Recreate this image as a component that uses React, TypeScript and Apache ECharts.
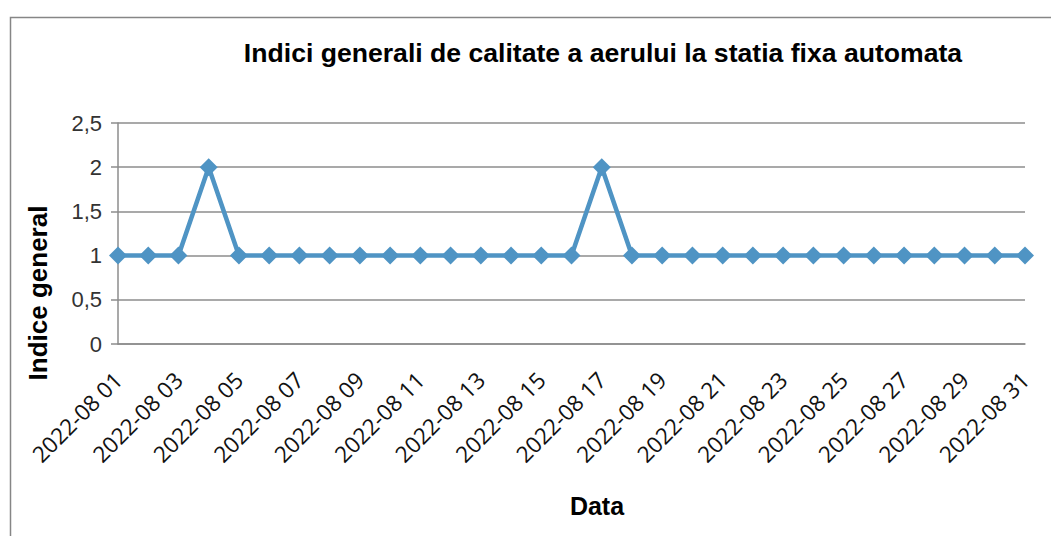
import React, { useEffect, useRef } from "react";
import * as echarts from "echarts";

const titleText = "Indici generali de calitate a aerului la statia fixa automata";
const xAxisTitle = "Data";
const yAxisTitle = "Indice general";
const dates = [
  "2022-08 01", "2022-08 02", "2022-08 03", "2022-08 04", "2022-08 05", "2022-08 06",
  "2022-08 07", "2022-08 08", "2022-08 09", "2022-08 10", "2022-08 11", "2022-08 12",
  "2022-08 13", "2022-08 14", "2022-08 15", "2022-08 16", "2022-08 17", "2022-08 18",
  "2022-08 19", "2022-08 20", "2022-08 21", "2022-08 22", "2022-08 23", "2022-08 24",
  "2022-08 25", "2022-08 26", "2022-08 27", "2022-08 28", "2022-08 29", "2022-08 30",
  "2022-08 31",
];
const indexValues = [
  1, 1, 1, 2, 1, 1, 1, 1, 1, 1, 1, 1, 1, 1, 1, 1, 2, 1, 1, 1, 1, 1, 1, 1, 1, 1, 1, 1, 1, 1, 1,
];
const yMin = 0;
const yMax = 2.5;
const yInterval = 0.5;

export default function App() {
  const ref = useRef<HTMLDivElement>(null);
  useEffect(() => {
    if (!ref.current) return;
    const chart = echarts.init(ref.current, null, { renderer: "svg" });
    chart.setOption({
      animation: false,
      backgroundColor: "#ffffff",
      title: {
        text: titleText,
        left: 598,
        top: 34,
        textAlign: "center",
        textStyle: {
          fontFamily: "Liberation Sans",
          fontWeight: "bold",
          fontSize: 26.6,
          color: "#000",
        },
      },
      graphic: [
        {
          type: "rect",
          left: 8,
          top: 15,
          shape: { width: 1200, height: 700 },
          style: { fill: "none", stroke: "#868686", lineWidth: 1.5 },
          silent: true,
        },
        {
          type: "text",
          x: 38,
          y: 293,
          rotation: Math.PI / 2,
          style: {
            text: yAxisTitle,
            fontFamily: "Liberation Sans",
            fontWeight: "bold",
            fontSize: 26,
            fill: "#000",
            align: "center",
            verticalAlign: "middle",
          },
        },
        {
          type: "text",
          x: 597,
          y: 506,
          style: {
            text: xAxisTitle,
            fontFamily: "Liberation Sans",
            fontWeight: "bold",
            fontSize: 25,
            fill: "#000",
            align: "center",
            verticalAlign: "middle",
          },
        },
      ],
      grid: { left: 118, right: 26, top: 123, bottom: 192 },
      xAxis: {
        type: "category",
        data: dates,
        boundaryGap: false,
        axisLine: { lineStyle: { color: "#8c8c8c", width: 1.5 } },
        axisTick: { show: false },
        axisLabel: {
          interval: 1,
          rotate: 45,
          margin: 32,
          fontFamily: "Open Sans",
          fontSize: 22.5,
          color: "#111",
        },
        splitLine: { show: false },
      },
      yAxis: {
        type: "value",
        min: yMin,
        max: yMax,
        interval: yInterval,
        axisLine: { show: true, lineStyle: { color: "#8c8c8c", width: 1.5 } },
        axisTick: { show: true, length: 7, lineStyle: { color: "#8c8c8c", width: 1.5 } },
        axisLabel: {
          margin: 16,
          fontFamily: "Liberation Sans",
          fontSize: 22,
          color: "#333",
          formatter: (v: number) => String(v).replace(".", ","),
        },
        splitLine: { lineStyle: { color: "#8c8c8c", width: 1.5 } },
      },
      series: [
        {
          type: "line",
          data: indexValues,
          symbol: "diamond",
          symbolSize: 18,
          lineStyle: { color: "#4f94c4", width: 4.5 },
          itemStyle: { color: "#4f94c4" },
        },
      ],
    });
    return () => chart.dispose();
  }, []);
  return (
    <div
      ref={ref}
      style={{ position: "fixed", left: 0, top: 0, width: 1051, height: 536 }}
    />
  );
}
